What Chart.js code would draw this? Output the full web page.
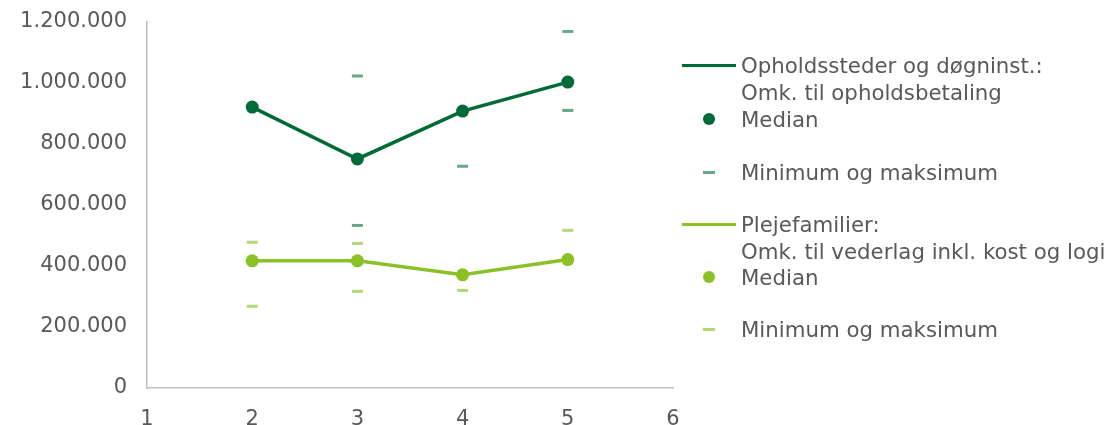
<!DOCTYPE html>
<html>
<head>
<meta charset="utf-8">
<script src="https://cdn.jsdelivr.net/npm/chart.js@4"></script>
<style>
  html, body { margin: 0; padding: 0; background: #fff; overflow: hidden; }
  #wrap { position: relative; width: 1115px; height: 425px; }
  #c { position: absolute; left: 0; top: 0; }
  #legend { position: absolute; left: 0; top: 0; width: 1115px; height: 425px; pointer-events: none;
    font-family: "DejaVu Sans", Verdana, sans-serif; font-size: 21.3px; color: #595959; overflow: hidden; }
  .lt { position: absolute; left: 741px; white-space: nowrap; line-height: 27px; transform: translateY(-50%); }
  .sym { position: absolute; }
</style>
</head>
<body>
<div id="wrap">
  <canvas id="c" width="1115" height="425"></canvas>
  <div id="legend"></div>
</div>
<script>
// ---- data ----
const categories = [2, 3, 4, 5];
const darkMedian = [921000, 751000, 908000, 1003000];
const darkMin = [null, 533000, 727000, 910000];
const darkMax = [null, 1023000, null, 1169000];
const lightMedian = [417000, 417000, 371000, 421000];
const lightMin = [268000, 317000, 320000, null];
const lightMax = [478000, 474000, null, 517000];
const yTicks = [0, 200000, 400000, 600000, 800000, 1000000, 1200000];
const xTicks = [1, 2, 3, 4, 5, 6];

const legendItems = [
  { kind: 'line', color: '#006a38', lines: ['Opholdssteder og døgninst.:', 'Omk. til opholdsbetaling'] },
  { kind: 'dot', color: '#006a38', lines: ['Median'] },
  { kind: 'dash', color: '#66a88a', lines: ['Minimum og maksimum'] },
  { kind: 'line', color: '#8cc027', lines: ['Plejefamilier:', 'Omk. til vederlag inkl. kost og logi'] },
  { kind: 'dot', color: '#8cc027', lines: ['Median'] },
  { kind: 'dash', color: '#b3d67a', lines: ['Minimum og maksimum'] }
];

const DARK = '#006a38', LIGHT = '#8cc027', DARKMM = '#66a88a', LIGHTMM = '#b3d67a';

function pts(vals) {
  return categories.map((c, i) => ({ x: c, y: vals[i] })).filter(p => p.y !== null);
}
function fmt(v) {
  return String(v).replace(/\B(?=(\d{3})+(?!\d))/g, '.');
}
function noPad(s) { s.paddingTop = 0; s.paddingBottom = 0; s.paddingLeft = 0; s.paddingRight = 0; }

const font = { family: '"DejaVu Sans", Verdana, sans-serif', size: 21 };

new Chart(document.getElementById('c'), {
  type: 'scatter',
  data: {
    datasets: [
      { label: 'darkMinMax', data: pts(darkMin).concat(pts(darkMax)), showLine: false,
        pointStyle: 'line', pointRadius: 5.5, pointBorderWidth: 3, borderColor: DARKMM, backgroundColor: DARKMM },
      { label: 'lightMinMax', data: pts(lightMin).concat(pts(lightMax)), showLine: false,
        pointStyle: 'line', pointRadius: 5.5, pointBorderWidth: 3, borderColor: LIGHTMM, backgroundColor: LIGHTMM },
      { label: 'darkMedian', data: pts(darkMedian), showLine: true, borderColor: DARK, backgroundColor: DARK,
        borderWidth: 3.5, pointRadius: 6.5, pointBorderWidth: 0, tension: 0 },
      { label: 'lightMedian', data: pts(lightMedian), showLine: true, borderColor: LIGHT, backgroundColor: LIGHT,
        borderWidth: 3.5, pointRadius: 6.5, pointBorderWidth: 0, tension: 0 }
    ]
  },
  options: {
    responsive: false,
    animation: false,
    layout: { padding: { left: 0, right: 442, top: 22, bottom: 0 } },
    plugins: { legend: { display: false }, tooltip: { enabled: false } },
    scales: {
      x: {
        type: 'linear', min: 1, max: 6,
        afterBuildTicks: s => { s.ticks = xTicks.map(v => ({ value: v })); },
        afterFit: s => { s.height = 37; noPad(s); },
        grid: { display: false, drawTicks: false },
        border: { display: true, color: '#c0c0c0', width: 1.5 },
        ticks: { color: '#595959', font: font, padding: 19 }
      },
      y: {
        type: 'linear', min: 0, max: 1200000,
        afterBuildTicks: s => { s.ticks = yTicks.map(v => ({ value: v })); },
        afterFit: s => { s.width = 147; noPad(s); },
        grid: { display: false, drawTicks: false },
        border: { display: true, color: '#c0c0c0', width: 1.5 },
        ticks: { color: '#595959', font: font, padding: 20, callback: v => fmt(v) }
      }
    }
  }
});

// ---- HTML legend ----
const leg = document.getElementById('legend');
const rowYs = [[65, 92], [119], [172], [224, 251], [277], [329]];
legendItems.forEach((it, i) => {
  const ys = rowYs[i];
  it.lines.forEach((t, j) => {
    const d = document.createElement('div');
    d.className = 'lt';
    d.style.top = ys[j] + 'px';
    d.textContent = t;
    leg.appendChild(d);
  });
  const s = document.createElement('div');
  s.className = 'sym';
  s.style.background = it.color;
  const y = ys[0];
  if (it.kind === 'line') {
    s.style.left = '682px'; s.style.width = '54px'; s.style.top = (y - 1.5) + 'px'; s.style.height = '3px';
  } else if (it.kind === 'dot') {
    s.style.left = '703px'; s.style.width = '12px'; s.style.top = (y - 6) + 'px'; s.style.height = '12px';
    s.style.borderRadius = '50%';
  } else {
    s.style.left = '703px'; s.style.width = '12px'; s.style.top = (y - 1.5) + 'px'; s.style.height = '3px';
  }
  leg.appendChild(s);
});
</script>
</body>
</html>
